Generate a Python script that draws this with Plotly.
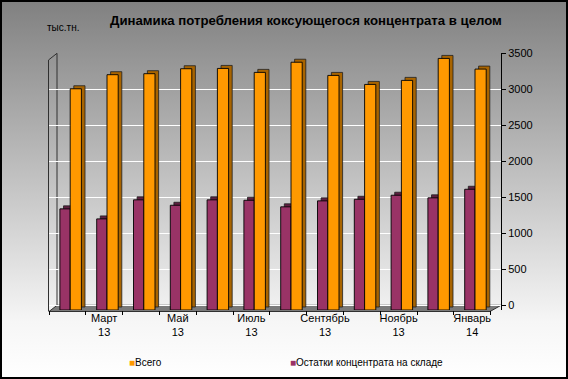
import base64
import plotly.graph_objects as go

# ---------------- data ----------------
months = ["Февраль 13", "Март 13", "Апрель 13", "Май 13", "Июнь 13", "Июль 13",
          "Август 13", "Сентябрь 13", "Октябрь 13", "Ноябрь 13", "Декабрь 13", "Январь 14"]
tick_labels = ["", "Март<br>13", "", "Май<br>13", "", "Июль<br>13",
               "", "Сентябрь<br>13", "", "Ноябрь<br>13", "", "Январь<br>14"]
vsego = [3069, 3264, 3278, 3347, 3351, 3296, 3437, 3254, 3129, 3185, 3490, 3342]
ostatki = [1403, 1264, 1528, 1453, 1528, 1522, 1431, 1514, 1536, 1592, 1556, 1675]
y_ticks = [0, 500, 1000, 1500, 2000, 2500, 3000, 3500]

# ---------------- geometry ----------------
W, H = 568, 379
L, R, T, B = 49, 67, 53, 69
PW, PH = W - L - R, H - T - B
UX = 36.8                      # px per category
YMIN, YMAX = -65, 3500
YS = (YMAX - YMIN) / PH        # data units per px
DX, DY = 3.6, 3.0              # 3D depth offset in px
FLOOR = YMIN                   # front floor level

def px(xp, yp):
    return (xp - L) / PW, (H - B - yp) / PH

C_OR, C_OR_D = "#FF9900", "#A86400"
C_PU, C_PU_D = "#993366", "#5E1F40"

fig = go.Figure()

def add_series(vals, name, col, dcol, off_px, w_px):
    fig.add_trace(go.Bar(
        x=months, y=vals, base=FLOOR + DY * YS, offset=(off_px + DX) / UX, width=w_px / UX,
        marker=dict(color=dcol, line=dict(color="#202020", width=0.8)),
        showlegend=False, hoverinfo="skip"))
    fig.add_trace(go.Bar(
        x=months, y=vals, base=FLOOR, offset=off_px / UX, width=w_px / UX, name=name,
        marker=dict(color=col, line=dict(color="#000000", width=0.9)),
        showlegend=False, hoverinfo="skip"))

add_series(ostatki, "Остатки концентрата на складе", C_PU, C_PU_D, -7.5, 10.3)
add_series(vsego, "Всего", C_OR, C_OR_D, 2.8, 11.2)

# ---------------- background gradient + border ----------------
svg = (f"<svg xmlns='http://www.w3.org/2000/svg' width='{W}' height='{H}' viewBox='0 0 {W} {H}' preserveAspectRatio='none'>"
       "<defs><linearGradient id='g' x1='0' y1='0' x2='0' y2='1'>"
       "<stop offset='0' stop-color='#808080'/><stop offset='0.85' stop-color='#f6f6f6'/>"
       "<stop offset='1' stop-color='#ffffff'/></linearGradient></defs>"
       f"<rect width='{W}' height='{H}' fill='url(#g)'/>"
       f"<rect x='1' y='1' width='{W-2}' height='{H-2}' fill='none' stroke='#000' stroke-width='2'/></svg>")
uri = "data:image/svg+xml;base64," + base64.b64encode(svg.encode()).decode()

shapes = []
# floor
pts = [px(49, 311.5), px(490, 311.5), px(501, 305.3), px(57, 305.3)]
path = "M " + " L ".join(f"{a:.5f},{b:.5f}" for a, b in pts) + " Z"
shapes.append(dict(type="path", xref="paper", yref="paper", path=path,
                   fillcolor="#7a7a7a", line=dict(color="#303030", width=1), layer="between"))
# left wall edges
for (x0, y0, x1, y1) in [(48.5, 60, 48.5, 311.5), (57, 53.3, 57, 305.3), (48.5, 60, 57, 53.3)]:
    a0, b0 = px(x0, y0)
    a1, b1 = px(x1, y1)
    shapes.append(dict(type="line", xref="paper", yref="paper", x0=a0, y0=b0, x1=a1, y1=b1,
                       line=dict(color="#303030", width=1), layer="between"))

# ---------------- texts ----------------
annotations = []
tx, ty = px(306, 20)
annotations.append(dict(text="<b>Динамика потребления коксующегося концентрата в целом</b>",
                        xref="paper", yref="paper", x=tx, y=ty, showarrow=False,
                        xanchor="center", yanchor="middle",
                        font=dict(family="Liberation Sans", size=13.2, color="#000")))
ux, uy = px(45, 28)
annotations.append(dict(text="тыс.тн.", xref="paper", yref="paper", x=ux, y=uy, showarrow=False,
                        xanchor="left", yanchor="middle",
                        font=dict(family="Liberation Sans", size=10, color="#000")))
for xpix, name, col in [(127, "Всего", C_OR), (288, "Остатки концентрата на складе", C_PU)]:
    lx, ly = px(xpix, 362)
    annotations.append(dict(text=f"<span style='color:{col}'>■</span>{name}",
                            xref="paper", yref="paper", x=lx, y=ly, showarrow=False,
                            xanchor="left", yanchor="middle",
                            font=dict(family="Liberation Sans", size=10, color="#000")))

ix, iy = px(0, 0)
fig.update_layout(
    width=W, height=H, margin=dict(l=L, r=R, t=T, b=B, pad=0),
    paper_bgcolor="#ffffff", plot_bgcolor="rgba(0,0,0,0)",
    barmode="overlay", showlegend=False,
    images=[dict(source=uri, xref="paper", yref="paper", x=ix, y=iy,
                 sizex=W / PW, sizey=H / PH, xanchor="left", yanchor="top",
                 sizing="stretch", layer="below")],
    shapes=shapes, annotations=annotations,
    xaxis=dict(type="category", range=[-0.5, -0.5 + PW / UX], tickmode="array",
               tickvals=months, ticktext=tick_labels, tickson="boundaries", tickangle=0,
               ticks="outside", ticklen=4, tickcolor="#000", showgrid=False,
               showline=False, zeroline=False, automargin=False,
               tickfont=dict(family="Liberation Sans", size=11, color="#000")),
    yaxis=dict(side="right", range=[YMIN, YMAX], tickmode="array", tickvals=y_ticks,
               showgrid=True, gridcolor="#ffffff", gridwidth=1.2, zeroline=False,
               showline=True, linecolor="#000", linewidth=1, ticks="outside", ticklen=4,
               tickcolor="#000", automargin=False,
               tickfont=dict(family="Liberation Sans", size=11, color="#000")),
)

fig.write_html("out.html", config={"displayModeBar": False},
               post_script="document.body.style.margin='0';")
